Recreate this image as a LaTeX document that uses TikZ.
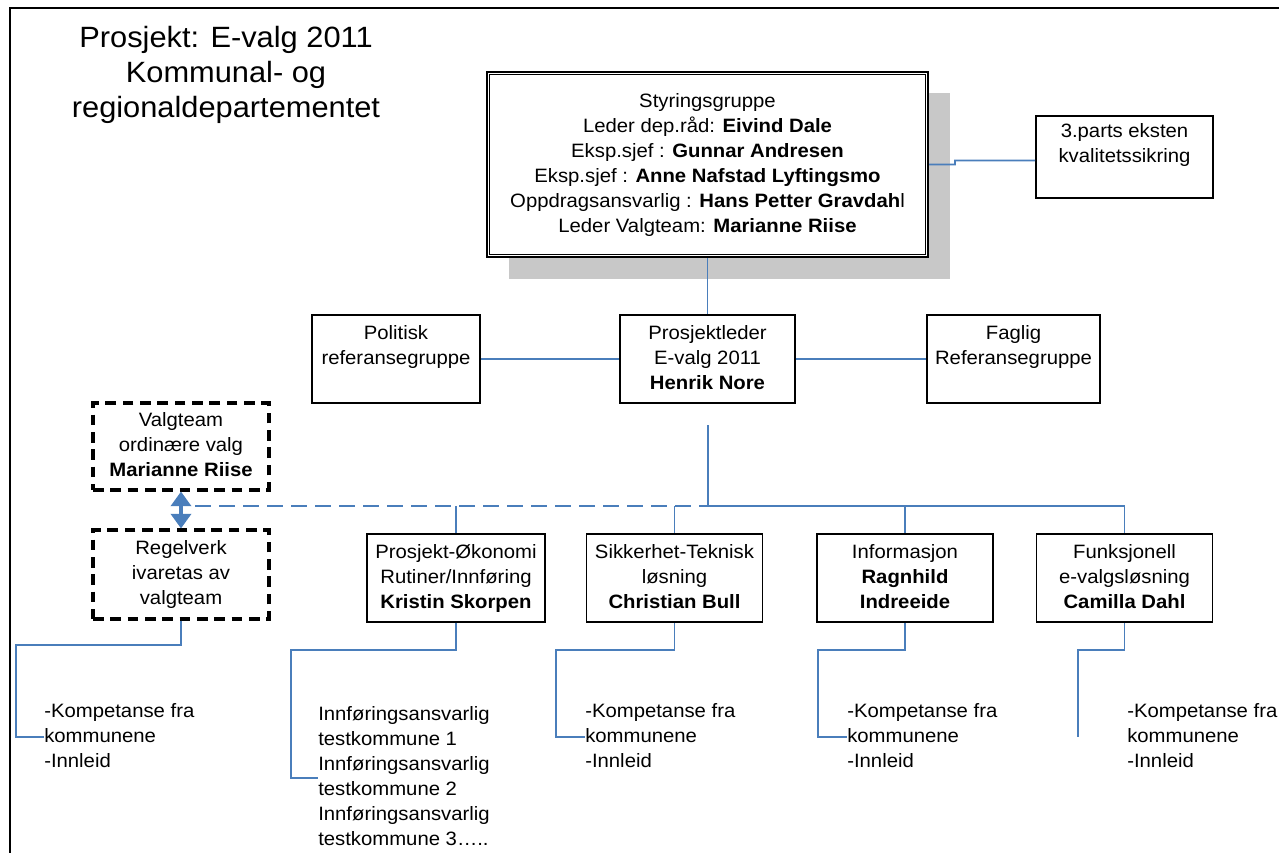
\documentclass[tikz,border=0pt]{standalone}
\usepackage{fontspec}
\setmainfont{Liberation Sans}
\usepackage{graphicx}
\usetikzlibrary{arrows.meta,calc}
\definecolor{lblue}{RGB}{74,126,187}
\definecolor{shgray}{RGB}{200,200,200}
\newcommand\ctx[1]{\scalebox{1.05}[1]{\begin{tabular}{@{}c@{}}#1\end{tabular}}}
\newcommand\ltx[1]{\scalebox{1.05}[1]{\begin{tabular}{@{}l@{}}#1\end{tabular}}}
\begin{document}
\begin{tikzpicture}[x=0.75pt,y=-0.75pt,
  every node/.style={inner sep=0pt, font=\fontsize{14.5}{18.75}\selectfont},
  box/.style={draw=black, line width=1.2pt, fill=white},
  dbox/.style={draw=black, line width=2.3pt, dash pattern=on 8pt off 5pt},
  conn/.style={draw=lblue, line width=1.3pt},
  titlefont/.style={font=\fontsize{22}{26.25}\selectfont}
]
\useasboundingbox (0,0) rectangle (1279,853);
% frame
\draw[line width=2pt] (10,853) -- (10,8) -- (1279,8);
% title
\node[titlefont] (title) at (226,75) {\ctx{Prosjekt: E-valg 2011\\Kommunal- og\\regionaldepartementet}};
% steering group
\fill[shgray] (509,93) rectangle (950,279);
\node[box, line width=1.6pt, minimum width=330.75pt, minimum height=138.75pt] (sg) at (707.5,164.5)
  {\ctx{Styringsgruppe\\Leder dep.råd: \textbf{Eivind Dale}\\Eksp.sjef : \textbf{Gunnar Andresen}\\Eksp.sjef : \textbf{Anne Nafstad Lyftingsmo}\\Oppdragsansvarlig : \textbf{Hans Petter Gravdah}l\\Leder Valgteam: \textbf{Marianne Riise}}};
\draw[line width=0.8pt] ($(sg.south west)+(4,-4)$) rectangle ($(sg.north east)+(-4,4)$);
\node[box, minimum width=132.75pt, minimum height=61.5pt] (tp) at (1124.5,157) {\ctx{3.parts eksten\\kvalitetssikring\\\mbox{}}};
\draw[conn] (sg.east) -- ++(26,0) -- ++(0,-4) -- ([yshift=-2.6pt]tp.west);
% middle row
\node[box, minimum width=126pt, minimum height=66pt] (pol) at (396,359) {\ctx{Politisk\\referansegruppe\\\mbox{}}};
\node[box, minimum width=131.25pt, minimum height=66pt] (pl) at (707.5,359) {\ctx{Prosjektleder\\E-valg 2011\\\textbf{Henrik Nore}}};
\node[box, minimum width=129.75pt, minimum height=66pt] (fag) at (1013.5,359) {\ctx{Faglig\\Referansegruppe\\\mbox{}}};
\draw[conn] (sg) -- (pl);
\draw[conn] (pol) -- (pl);
\draw[conn] (pl) -- (fag);
% dashed boxes
\node[dbox, minimum width=132pt, minimum height=65.25pt] (vt) at (181,446.5) {\ctx{Valgteam\\ordinære valg\\\textbf{Marianne Riise}}};
\node[dbox, minimum width=132pt, minimum height=66.75pt] (rg) at (181,574.5) {\ctx{Regelverk\\ivaretas av\\valgteam}};
\draw[lblue, line width=2.8pt, {Triangle[width=15pt,length=11pt]}-{Triangle[width=15pt,length=11pt]}] (vt.south) -- (rg.north);
% bottom row
\node[box, minimum width=133.5pt, minimum height=66pt] (eco) at (456,578) {\ctx{Prosjekt-Økonomi\\Rutiner/Innføring\\\textbf{Kristin Skorpen}}};
\node[box, minimum width=132pt, minimum height=66pt] (sik) at (674.5,578) {\ctx{Sikkerhet-Teknisk\\løsning\\\textbf{Christian Bull}}};
\node[box, minimum width=132pt, minimum height=66pt] (inf) at (905,578) {\ctx{Informasjon\\\textbf{Ragnhild}\\\textbf{Indreeide}}};
\node[box, minimum width=132pt, minimum height=66pt] (fun) at (1124.5,578) {\ctx{Funksjonell\\e-valgsløsning\\\textbf{Camilla Dahl}}};
% bus
\coordinate (pd) at (708,425);
\coordinate (jn) at (708,506);
\coordinate (ds) at (195,506);
\draw[conn] (pd) -- (jn);
\draw[conn] (jn) -- (fun.north |- jn) -- (fun.north);
\draw[conn] (inf.north |- jn) -- (inf.north);
\draw[conn] (sik.north |- jn) -- (sik.north);
\draw[conn] (eco.north |- jn) -- (eco.north);
\draw[conn, line width=1.9pt, dash pattern=on 12pt off 6pt] (ds) -- (jn);
% lists
\node[anchor=west] (rgl) at (44,737) {\ltx{-Kompetanse fra\\kommunene\\-Innleid}};
\node[anchor=west] (ecol) at (318,778) {\ltx{Innføringsansvarlig\\testkommune 1\\Innføringsansvarlig\\testkommune 2\\Innføringsansvarlig\\testkommune 3…..}};
\node[anchor=west] (sikl) at (585,737) {\ltx{-Kompetanse fra\\kommunene\\-Innleid}};
\node[anchor=west] (infl) at (847,737) {\ltx{-Kompetanse fra\\kommunene\\-Innleid}};
\node[anchor=west] (funl) at (1127,737) {\ltx{-Kompetanse fra\\kommunene\\-Innleid}};
\coordinate (rk) at (16,645);
\coordinate (ek) at (291,650);
\coordinate (sk) at (556,650);
\coordinate (ik) at (818,650);
\coordinate (fk) at (1078,650);
\draw[conn] (rg.south) |- (rk) |- (rgl.west);
\draw[conn] (eco.south) |- (ek) |- (ecol.west);
\draw[conn] (sik.south) |- (sk) |- (sikl.west);
\draw[conn] (inf.south) |- (ik) |- (infl.west);
\draw[conn] (fun.south) |- (fk) -- (fk |- funl.west);
\end{tikzpicture}
\end{document}
